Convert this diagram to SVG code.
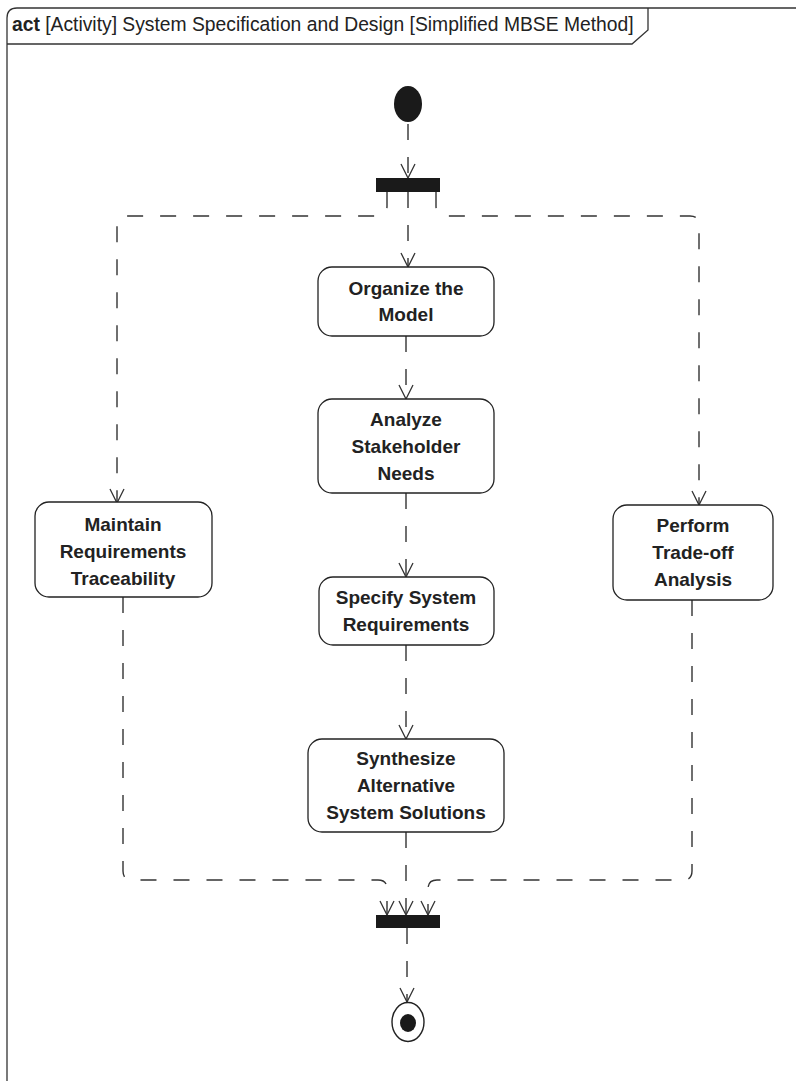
<svg xmlns="http://www.w3.org/2000/svg" width="796" height="1081" viewBox="0 0 796 1081">
<defs>
<style>
.frame{fill:none;stroke:#333;stroke-width:1.3}
.box{fill:#fff;stroke:#222;stroke-width:1.3}
.lbl{font-family:"Liberation Sans",Arial,sans-serif;font-size:19px;font-weight:bold;fill:#222;text-anchor:middle}
.hdr{font-family:"Liberation Sans",Arial,sans-serif;font-size:19.3px;fill:#222}
.flow{fill:none;stroke:#333;stroke-width:1.4;stroke-dasharray:16 17}
.bar{fill:#1a1a1a}
</style>
<marker id="arr" viewBox="0 0 16 16" refX="15" refY="8" markerWidth="16" markerHeight="16" markerUnits="userSpaceOnUse" orient="auto">
<path d="M1,1 L15,8 L1,15" fill="none" stroke="#333" stroke-width="1.3"/>
</marker>
</defs>
<rect width="796" height="1081" fill="#fff"/>
<g id="frame">
<path class="frame" d="M7,1085 Q7,1078 7,1070 V18 Q7,8 17,8 H800"/>
<path class="frame" d="M7,44 H632 L648,30 V8"/>
<text class="hdr" x="12" y="31"><tspan font-weight="bold">act</tspan> [Activity] System Specification and Design [Simplified MBSE Method]</text>
</g>
<g id="connectors">
<path class="flow" d="M408,124 V178" marker-end="url(#arr)" stroke-dasharray="24 16"/>
<path class="flow" d="M408,192 V267" marker-end="url(#arr)"/>
<path class="flow" d="M387,192 V206 Q387,216 377,216 H126 Q117,216 117,225 V503" marker-end="url(#arr)"/>
<path class="flow" d="M436,192 V206 Q436,216 446,216 H690 Q699,216 699,225 V505" marker-end="url(#arr)"/>
<path class="flow" d="M406,336 V399" marker-end="url(#arr)"/>
<path class="flow" d="M406,493 V577" marker-end="url(#arr)"/>
<path class="flow" d="M406,645 V739" marker-end="url(#arr)"/>
<path class="flow" d="M406,832 V915" marker-end="url(#arr)"/>
<path class="flow" d="M123,597 V871 Q123,880 132,880 H378 Q387,880 387,889 V915" marker-end="url(#arr)"/>
<path class="flow" d="M692,600 V871 Q692,880 683,880 H437 Q428,880 428,889 V915" marker-end="url(#arr)"/>
<path class="flow" d="M407,928 V1002" marker-end="url(#arr)"/>
</g>
<g id="initial"><ellipse cx="408" cy="104" rx="14" ry="18" fill="#1a1a1a"/></g>
<g id="fork"><rect class="bar" x="376" y="178" width="64" height="14"/></g>
<g id="join"><rect class="bar" x="376" y="915" width="64" height="13"/></g>
<g id="final">
<ellipse cx="408" cy="1022" rx="16" ry="19.5" fill="#fff" stroke="#222" stroke-width="1.4"/>
<ellipse cx="408" cy="1023" rx="8" ry="9" fill="#1a1a1a"/>
</g>
<g id="organize">
<rect class="box" x="318" y="267" width="176" height="69" rx="14"/>
<text class="lbl" x="406" y="295">Organize the</text>
<text class="lbl" x="406" y="321">Model</text>
</g>
<g id="analyze">
<rect class="box" x="318" y="399" width="176" height="94" rx="14"/>
<text class="lbl" x="406" y="426">Analyze</text>
<text class="lbl" x="406" y="453">Stakeholder</text>
<text class="lbl" x="406" y="480">Needs</text>
</g>
<g id="specify">
<rect class="box" x="319" y="577" width="175" height="68" rx="14"/>
<text class="lbl" x="406" y="604">Specify System</text>
<text class="lbl" x="406" y="631">Requirements</text>
</g>
<g id="synthesize">
<rect class="box" x="308" y="739" width="196" height="93" rx="14"/>
<text class="lbl" x="406" y="765">Synthesize</text>
<text class="lbl" x="406" y="792">Alternative</text>
<text class="lbl" x="406" y="819">System Solutions</text>
</g>
<g id="maintain">
<rect class="box" x="35" y="502" width="177" height="95" rx="14"/>
<text class="lbl" x="123" y="531">Maintain</text>
<text class="lbl" x="123" y="558">Requirements</text>
<text class="lbl" x="123" y="585">Traceability</text>
</g>
<g id="perform">
<rect class="box" x="613" y="505" width="160" height="95" rx="14"/>
<text class="lbl" x="693" y="532">Perform</text>
<text class="lbl" x="693" y="559">Trade-off</text>
<text class="lbl" x="693" y="586">Analysis</text>
</g>
</svg>
